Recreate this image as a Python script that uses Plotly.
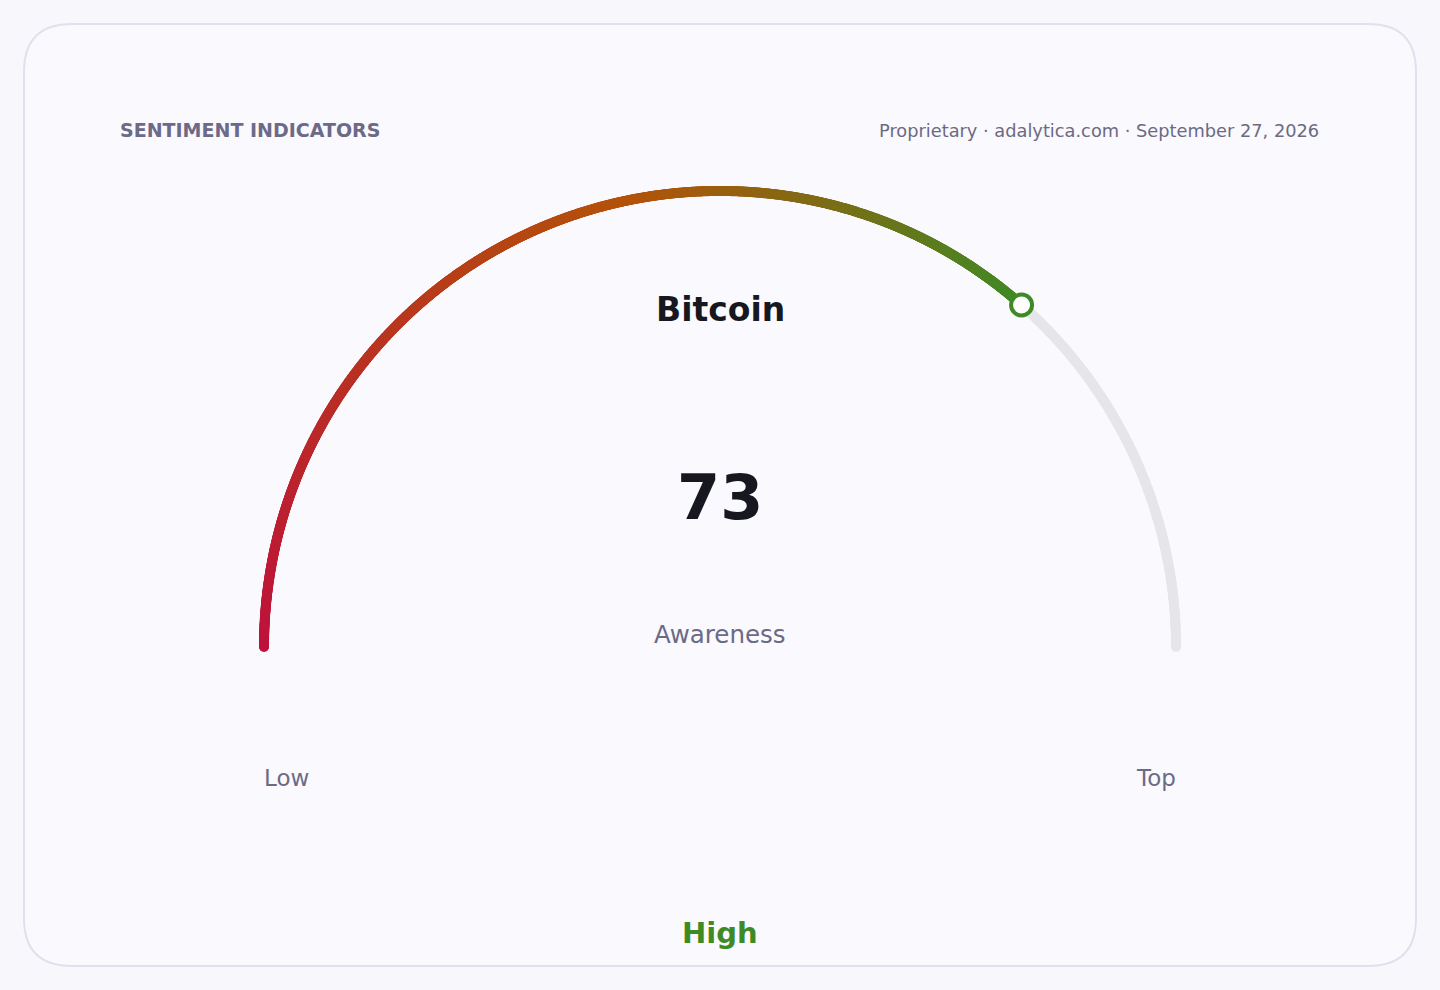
import numpy as np
import plotly.graph_objects as go

# gauge data
title = "Bitcoin"
metric = "Awareness"
value = 73
min_val = 0
max_val = 100
low_label = "Low"
top_label = "Top"
band_label = "High"
header_left = "SENTIMENT INDICATORS"
header_right = "Proprietary · adalytica.com · September 27, 2026"

# gradient stops along the filled part (fraction of value, colour)
grad_stops = [0.0, 0.6, 1.0]
grad_colors = [(190, 18, 60), (180, 83, 9), (63, 138, 37)]

W, H = 1440, 990
cx, cy, r = 720, 647, 456
arc_w = 10


def frac_to_xy(v):
    ang = np.pi * (1 - (v - min_val) / (max_val - min_val))
    return cx + r * np.cos(ang), cy - r * np.sin(ang)


def grad_color(f):
    for i in range(len(grad_stops) - 1):
        a, b = grad_stops[i], grad_stops[i + 1]
        if f <= b:
            t = (f - a) / (b - a)
            c0, c1 = grad_colors[i], grad_colors[i + 1]
            c = [round(c0[k] + (c1[k] - c0[k]) * t) for k in range(3)]
            return "rgb(%d,%d,%d)" % tuple(c)
    return "rgb(%d,%d,%d)" % grad_colors[-1]


fig = go.Figure()

# card
rr = 48
x0, y0, x1, y1 = 24, 24, 1416, 966
card_path = (f"M {x0+rr},{y0} L {x1-rr},{y0} Q {x1},{y0} {x1},{y0+rr} "
             f"L {x1},{y1-rr} Q {x1},{y1} {x1-rr},{y1} L {x0+rr},{y1} "
             f"Q {x0},{y1} {x0},{y1-rr} L {x0},{y0+rr} Q {x0},{y0} {x0+rr},{y0} Z")
fig.add_shape(type="path", path=card_path, xref="x", yref="y",
              fillcolor="#f9f9fe", line=dict(color="#e0e0ef", width=2), layer="below")

# track (remaining part)
tv = np.linspace(value, max_val, 300)
tx, ty = frac_to_xy(tv)
fig.add_trace(go.Scatter(x=tx, y=ty, mode="markers",
                         marker=dict(size=arc_w, color="#e6e6ea", line=dict(width=0)),
                         hoverinfo="skip", showlegend=False))

# filled gradient part
fv = np.linspace(min_val, value, 1200)
fx, fy = frac_to_xy(fv)
cols = [grad_color((v - min_val) / (value - min_val)) for v in fv]
fig.add_trace(go.Scatter(x=fx, y=fy, mode="markers",
                         marker=dict(size=arc_w, color=cols, line=dict(width=0)),
                         hoverinfo="skip", showlegend=False))

# value marker
mx, my = frac_to_xy(np.array([value]))
fig.add_trace(go.Scatter(x=mx, y=my, mode="markers",
                         marker=dict(size=21, color="#ffffff",
                                     line=dict(color="rgb(63,138,37)", width=4)),
                         hoverinfo="skip", showlegend=False))

font = "DejaVu Sans"
ann = [
    dict(x=118, y=130, text="<b>" + header_left + "</b>", xanchor="left",
         font=dict(size=19, color="#6c6a88")),
    dict(x=1321, y=130, text=header_right, xanchor="right",
         font=dict(size=17.8, color="#6c6a82")),
    dict(x=720, y=309, text="<b>" + title + "</b>", xanchor="center",
         font=dict(size=33, color="#17171f")),
    dict(x=720, y=497, text="<b>" + str(value) + "</b>", xanchor="center",
         font=dict(size=62, color="#17171f")),
    dict(x=720, y=634, text=metric, xanchor="center",
         font=dict(size=24.5, color="#6c6a85")),
    dict(x=262, y=778, text=low_label, xanchor="left",
         font=dict(size=23, color="#6c6a85")),
    dict(x=1178, y=778, text=top_label, xanchor="right",
         font=dict(size=23, color="#6c6a85")),
    dict(x=720, y=933, text="<b>" + band_label + "</b>", xanchor="center",
         font=dict(size=29, color="rgb(63,138,37)")),
]
for a in ann:
    a["font"]["family"] = font
    fig.add_annotation(xref="x", yref="y", yanchor="middle", showarrow=False, **a)

fig.update_layout(
    width=W, height=H,
    margin=dict(l=0, r=0, t=0, b=0),
    paper_bgcolor="#f8f8fc",
    plot_bgcolor="rgba(0,0,0,0)",
    xaxis=dict(range=[0, W], visible=False, fixedrange=True),
    yaxis=dict(range=[H, 0], visible=False, fixedrange=True),
)

fig.write_html("out.html", config={"displayModeBar": False},
               post_script="document.body.style.margin='0';document.body.style.background='#f8f8fc';")
